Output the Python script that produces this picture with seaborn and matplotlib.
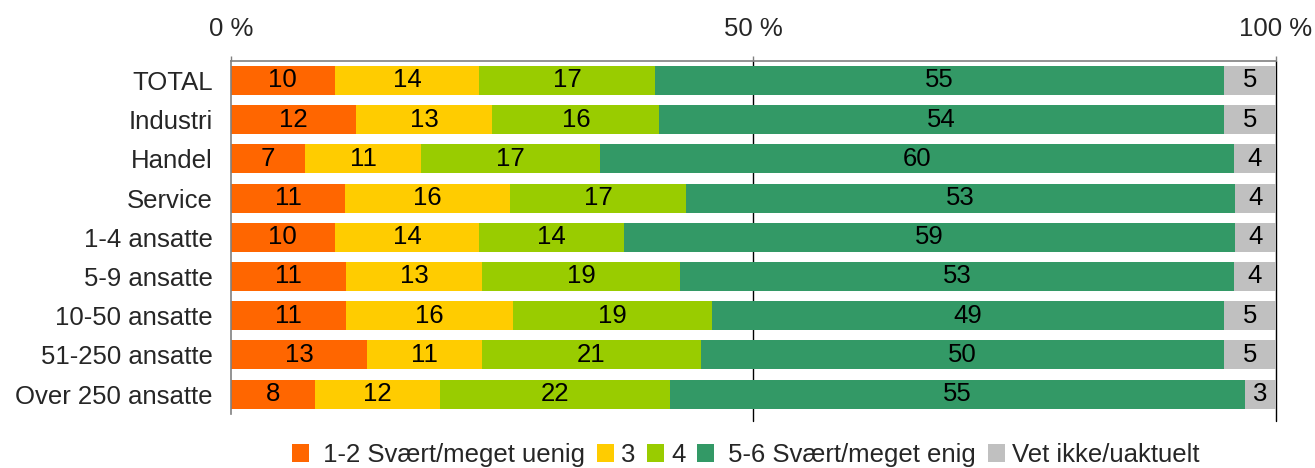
import numpy as np
import pandas as pd
import matplotlib
matplotlib.use("Agg")
import matplotlib.pyplot as plt
from matplotlib.patches import Patch
import seaborn as sns

sns.set_style("white")
plt.rcParams['font.family'] = ['Liberation Sans', 'DejaVu Sans']

# Data
groups = ["TOTAL", "Industri", "Handel", "Service", "1-4 ansatte",
          "5-9 ansatte", "10-50 ansatte", "51-250 ansatte", "Over 250 ansatte"]
uenig = [10, 12, 7, 11, 10, 11, 11, 13, 8]
tre = [14, 13, 11, 16, 14, 13, 16, 11, 12]
fire = [17, 16, 17, 17, 14, 19, 19, 21, 22]
enig = [55, 54, 60, 53, 59, 53, 49, 50, 55]
vet_ikke = [5, 5, 4, 4, 4, 4, 5, 5, 3]

series_names = [" 1-2 Svært/meget uenig", "3", "4", " 5-6 Svært/meget enig", "Vet ikke/uaktuelt"]
colors = ["#FF6600", "#FFCC00", "#99CC00", "#339966", "#C0C0C0"]

df = pd.DataFrame({"group": groups, series_names[0]: uenig, series_names[1]: tre,
                   series_names[2]: fire, series_names[3]: enig, series_names[4]: vet_ikke})
vals = df[series_names].astype(float)
# bars are drawn as shares of 100 %, labels keep the shown rounded numbers
shares = vals.div(vals.sum(axis=1), axis=0) * 100
cum = shares.cumsum(axis=1)

fs = 18.5
fig = plt.figure(figsize=(13.15, 4.68), dpi=100)
ax = fig.add_axes([0.1757, 0.116, 0.7946, 0.754])

# stacked bars: draw cumulative totals from the widest down
for name, col in reversed(list(zip(series_names, colors))):
    sns.barplot(x=cum[name], y=df["group"], color=col, orient="h",
                width=0.74, saturation=1, ax=ax, edgecolor="none")

# segment labels
for i in range(len(groups)):
    for name in series_names:
        start = cum[name][i] - shares[name][i]
        ax.text(start + shares[name][i] / 2, i, f"{int(vals[name][i])}",
                ha="center", va="center", fontsize=fs, color="black")

ax.set_xlim(0, 100)
ax.set_ylim(len(groups) - 0.5, -0.5)
ax.set_xlabel("")
ax.set_ylabel("")

ax.xaxis.tick_top()
ax.set_xticks([0, 50, 100])
ax.set_xticklabels(["0 %", "50 %", "100 %"])
ax.tick_params(axis="x", length=3.5, width=1, color="#808080", pad=11, labelsize=fs)
ax.tick_params(axis="y", length=0, pad=13, labelsize=fs)
ax.set_yticks(np.arange(-0.5, len(groups), 1), minor=True)
ax.tick_params(axis="y", which="minor", length=4, color="#808080", width=1)

for side in ["right", "bottom"]:
    ax.spines[side].set_visible(False)
for side in ["top", "left"]:
    ax.spines[side].set_color("#808080")
    ax.spines[side].set_linewidth(1.2)

for xv in [50, 100]:
    ax.axvline(xv, ymin=-0.02, ymax=1, color="black", lw=1, zorder=0, clip_on=False)

handles = [Patch(facecolor=c, edgecolor="none") for c in colors]
fig.legend(handles, series_names, loc="center", bbox_to_anchor=(0.567, 0.028),
           ncol=5, frameon=False, fontsize=fs, handlelength=0.66, handleheight=0.66,
           handletextpad=0.27, columnspacing=0.47)

fig.savefig("out.png", dpi=100)
